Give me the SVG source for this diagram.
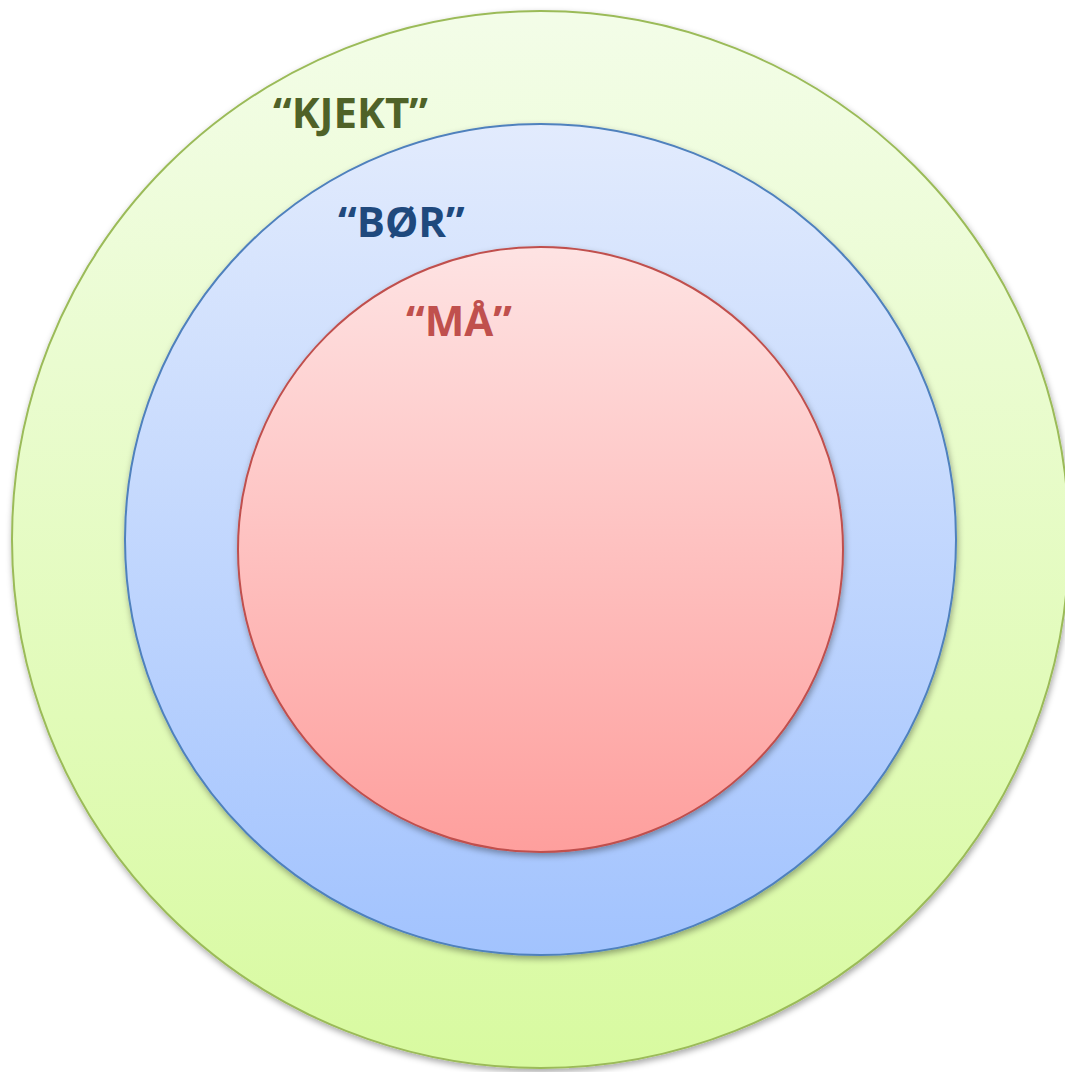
<svg xmlns="http://www.w3.org/2000/svg" width="1065" height="1072" viewBox="0 0 1065 1072">
  <defs>
    <linearGradient id="gradGreen" x1="0" y1="0" x2="0" y2="1">
      <stop offset="0" stop-color="#F3FDE8"/>
      <stop offset="1" stop-color="#D8FAA0"/>
    </linearGradient>
    <linearGradient id="gradBlue" x1="0" y1="0" x2="0" y2="1">
      <stop offset="0" stop-color="#E2EBFD"/>
      <stop offset="1" stop-color="#A2C3FE"/>
    </linearGradient>
    <linearGradient id="gradRed" x1="0" y1="0" x2="0" y2="1">
      <stop offset="0" stop-color="#FEE3E3"/>
      <stop offset="1" stop-color="#FE9F9D"/>
    </linearGradient>
    <filter id="shadow" x="-10%" y="-10%" width="120%" height="120%">
      <feDropShadow dx="1" dy="3" stdDeviation="3" flood-color="#000" flood-opacity="0.35"/>
    </filter>
  </defs>
  <style>
    .ring { stroke-width: 2; filter: url(#shadow); }
    .label { font-family: "Open Sans", "Liberation Sans", sans-serif; font-weight: bold; font-size: 42px; }
  </style>

  <rect width="1065" height="1072" fill="#FFFFFF"/>

  <!-- outer ring: nice to have -->
  <g id="kjekt">
    <circle class="ring" cx="540.5" cy="539.5" r="528.5" fill="url(#gradGreen)" stroke="#9BBB59"/>
    <text class="label" x="273" y="128" fill="#4F6228">“KJEKT”</text>
  </g>

  <!-- middle ring: should have -->
  <g id="bor">
    <circle class="ring" cx="540.5" cy="539.5" r="415.5" fill="url(#gradBlue)" stroke="#4F81BD"/>
    <text class="label" x="338" y="237" fill="#1F497D">“BØR”</text>
  </g>

  <!-- inner ring: must have -->
  <g id="maa">
    <circle class="ring" cx="540.5" cy="549.5" r="302.5" fill="url(#gradRed)" stroke="#C0504D"/>
    <text class="label" x="406" y="336" fill="#C0504D">“MÅ”</text>
  </g>

  <g id="connectors"/>
</svg>
